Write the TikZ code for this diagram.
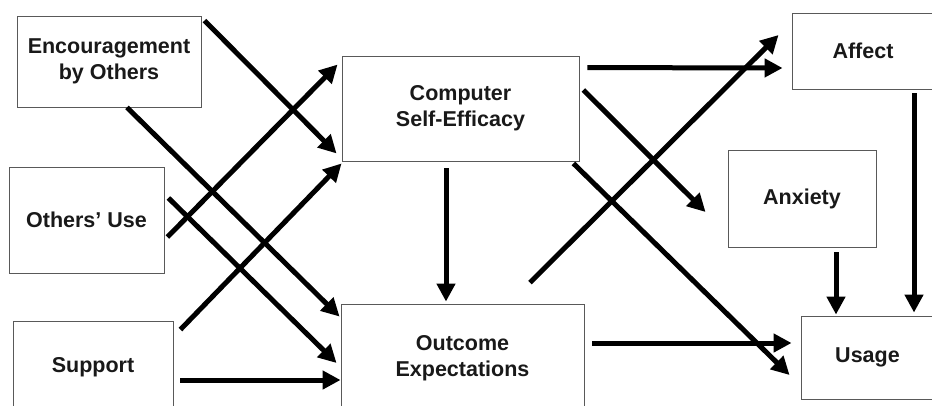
\documentclass[tikz,border=0pt]{standalone}
\usepackage{fontspec}
\setmainfont{Liberation Sans}
\usetikzlibrary{arrows.meta,calc}
\begin{document}
\begin{tikzpicture}[x=1pt,y=-1pt,
  box/.style={draw=black!65,line width=0.9pt,inner sep=0pt,align=center,
    font=\fontsize{21.5}{26}\selectfont\bfseries,text=black!90},
  arr/.style={line width=5pt,-{Triangle[length=18pt,width=18pt]}}]
\useasboundingbox (0,0) rectangle (932,405);
\clip (0,0) rectangle (932,405);
% boxes
\node[box,minimum width=184pt,minimum height=91pt] (enc) at (109,61.5) {Encouragement\\by Others};
\node[box,minimum width=237pt,minimum height=105pt] (cse) at (460.5,108.5) {Computer\\Self-Efficacy};
\node[box,minimum width=155pt,minimum height=106pt] (oth) at (86.5,220) {Others’ Use};
\node[box,minimum width=160pt,minimum height=92pt] (sup) at (93,367) {Support};
\node[box,minimum width=243pt,minimum height=108pt] (oe) at (462.5,358) {Outcome\\Expectations};
\node[box,minimum width=145pt,minimum height=76pt] (aff) at (864.5,51) {\hspace*{-3pt}Affect};
\node[box,minimum width=148pt,minimum height=97pt] (anx) at (802,198.5) {Anxiety};
\node[box,minimum width=136pt,minimum height=83pt] (usa) at (869,357.5) {\hspace*{-3pt}Usage};
% arrows
\draw[arr] ($(enc.north east)+(3,5)$) -- ($(cse.south west)+(-5,-8)$);
\draw[arr] ($(enc.south)+(18,0)$) -- ($(oe.north west)+(-1,13)$);
\draw[arr] ($(oth.east)+(3,17)$) -- ($(cse.north west)+(-4,9)$);
\draw[arr] ($(oth.east)+(4,-22)$) -- ($(oe.west)+(-4,5)$);
\draw[arr] ($(sup.north east)+(7,9)$) -- ($(cse.south west)+(0,2)$);
\draw[arr] ($(sup.east)+(7,13)$) -- ($(oe.west)+(0,22)$);
\draw[arr] ($(cse.south)+(-14.5,7)$) -- ($(oe.north)+(-16.5,-2)$);
\draw[arr] ($(cse.north east)+(8,12)$) -- ($(aff.west)+(-9,17)$);
\draw[arr] ($(cse.east)+(4,-18.5)$) -- ($(anx.west)+(-22,13.5)$);
\draw[arr] ($(cse.south east)+(-6,2)$) -- ($(usa.west)+(-11,17.5)$);
\draw[arr] ($(oe.north)+(67.5,-21)$) -- ($(aff.west)+(-13,-16)$);
\draw[arr] ($(oe.east)+(8,-15)$) -- ($(usa.west)+(-9,-14.5)$);
\draw[arr] ($(anx.south)+(34,5)$) -- ($(usa.north)+(-33,-1)$);
\draw[arr] ($(aff.south)+(49.5,4)$) -- ($(usa.north)+(45,-3)$);
\end{tikzpicture}
\end{document}
